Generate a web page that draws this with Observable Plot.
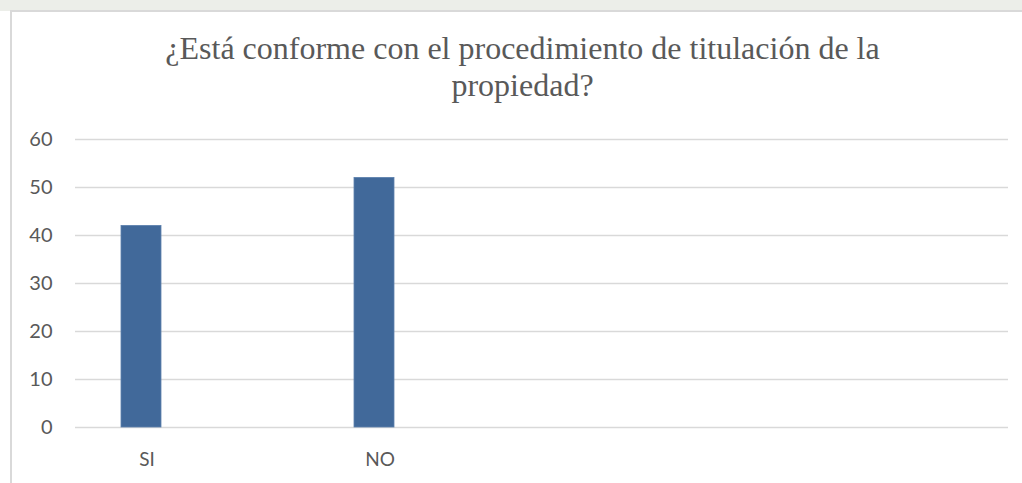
<!DOCTYPE html>
<html>
<head>
<meta charset="utf-8">
<script src="https://cdn.jsdelivr.net/npm/d3@7"></script>
<script src="https://cdn.jsdelivr.net/npm/@observablehq/plot@0.6"></script>
<style>
  html, body { margin: 0; padding: 0; background: #ffffff; }
  body { width: 1022px; height: 483px; overflow: hidden; position: relative; }
  #strip { position: absolute; left: 0; top: 0; width: 1022px; height: 11px; background: #eceee9; }
  #frame { position: absolute; left: 10px; top: 10px; width: 1100px; height: 600px;
           border-left: 2px solid #d9d9d9; border-top: 2px solid #d9d9d9; background: #ffffff; }
  #title { position: absolute; left: 0; top: 30px; width: 1045px; text-align: center;
           font-family: "Liberation Serif", "Times New Roman", serif; font-size: 32px;
           line-height: 37px; color: #595959; }
  #chart { position: absolute; left: 0; top: 0; }
</style>
</head>
<body>
<div id="strip"></div>
<div id="frame"></div>
<div id="title">¿Está conforme con el procedimiento de titulación de la<br>propiedad?</div>
<div id="chart"></div>
<script>
const categories = ["SI", "NO"];
const values = [42, 52];
const emptySlots = ["slot3", "slot4"];
const yTicks = [0, 10, 20, 30, 40, 50, 60];

const data = categories.map((c, i) => ({category: c, value: values[i]}));
const xDomain = [...categories, ...emptySlots];

const chart = Plot.plot({
  width: 1022,
  height: 483,
  marginTop: 139,
  marginBottom: 56,
  marginLeft: 75,
  marginRight: 14,
  style: {background: "transparent", fontFamily: "Lato, 'Open Sans', sans-serif", color: "#595959"},
  x: {domain: xDomain, padding: 0, label: null},
  y: {domain: [0, 60], label: null},
  marks: [
    Plot.ruleY(yTicks, {stroke: "#d9d9d9", strokeWidth: 1.5}),
    Plot.barY(data, {x: "category", y: "value", fill: "#41699a", stroke: "#5c80ad", strokeWidth: 0.8,
                     insetLeft: 45, insetRight: 148}),
    Plot.axisY({ticks: yTicks, tickSize: 0, tickPadding: 23, fontSize: 20, fill: "#595959", label: null}),
    Plot.axisX({tickSize: 0, tickPadding: 25, fontSize: 19, fill: "#595959", dx: -46, label: null,
                tickFormat: d => categories.includes(d) ? d : ""})
  ]
});
document.getElementById("chart").appendChild(chart);
</script>
</body>
</html>
